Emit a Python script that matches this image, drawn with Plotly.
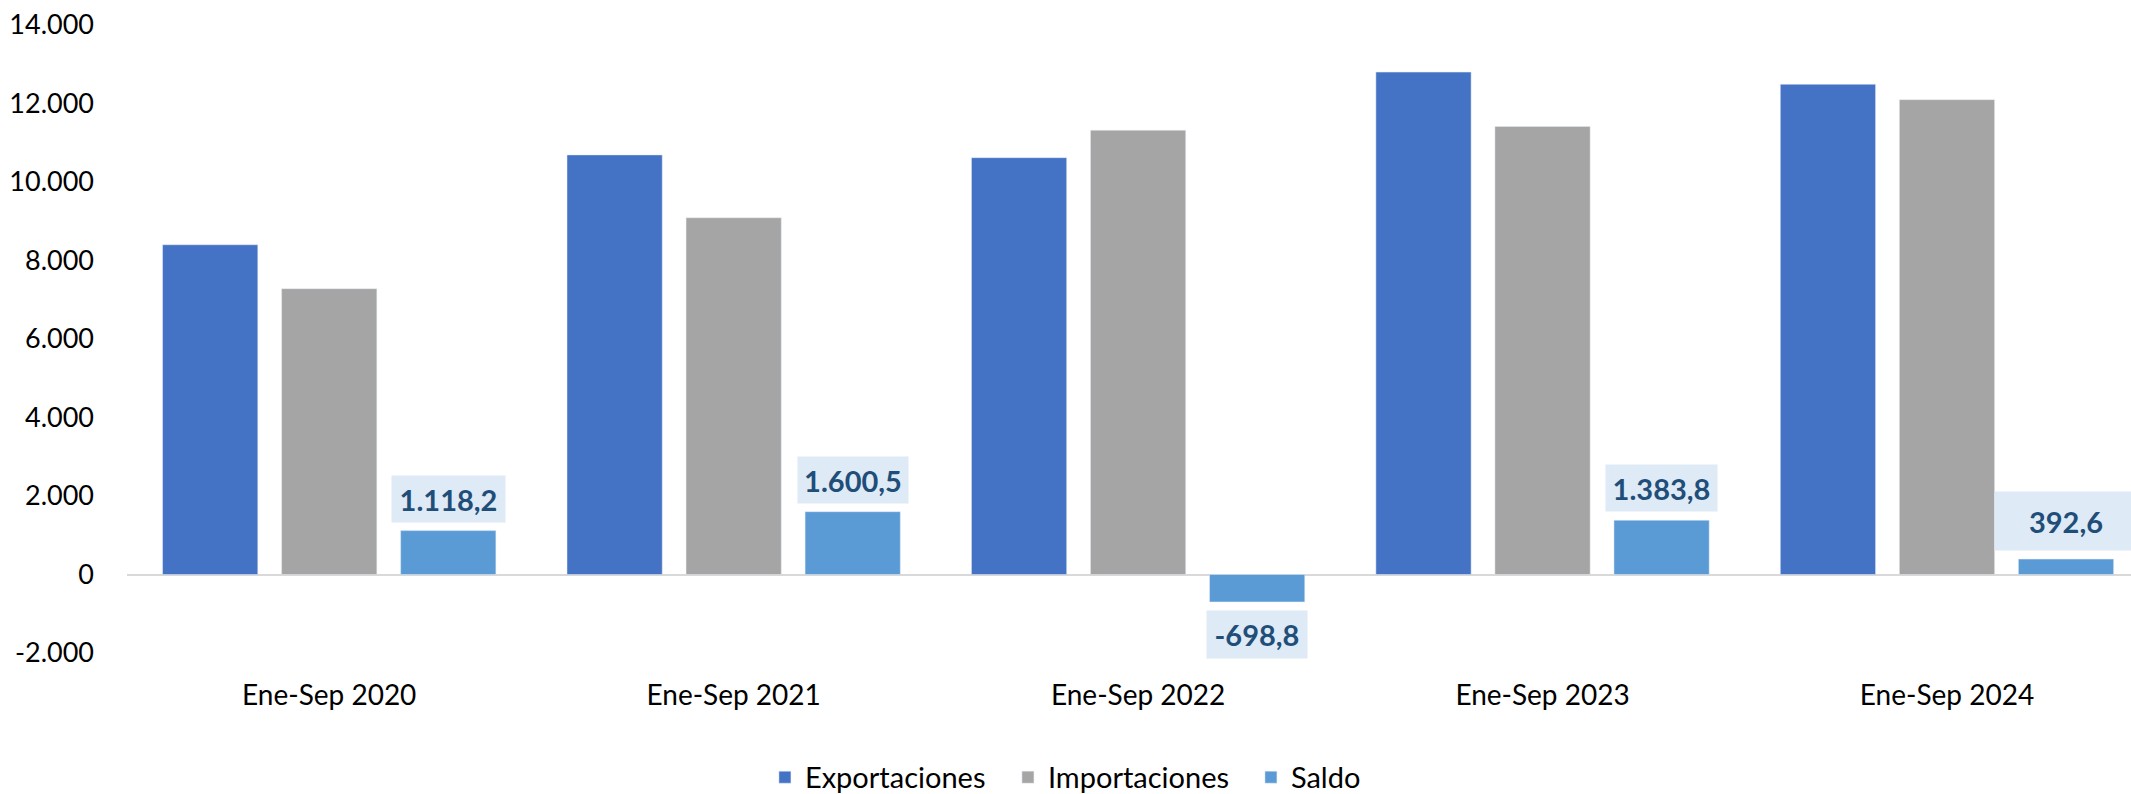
import plotly.graph_objects as go

categories = ["Ene-Sep 2020", "Ene-Sep 2021", "Ene-Sep 2022", "Ene-Sep 2023", "Ene-Sep 2024"]
exportaciones = [8400.5, 10690.0, 10620.0, 12800.0, 12490.0]
importaciones = [7282.3, 9089.5, 11318.8, 11416.2, 12097.4]
saldo = [1118.2, 1600.5, -698.8, 1383.8, 392.6]
y_tickvals = [-2000, 0, 2000, 4000, 6000, 8000, 10000, 12000, 14000]
y_ticktext = ["-2.000", "0", "2.000", "4.000", "6.000", "8.000", "10.000", "12.000", "14.000"]

FONT = "Lato"
W, H = 2131, 794
ML, MR, MT, MB = 127, 0, 25, 141
BARGAP = 0.117
BARGROUPGAP = 0.2
X_RANGE = [-0.5, 4.455]

# label box sizes (style)
box_w = [113, 110, 100, 111, 142]
box_h = [46, 46, 47, 46, 58]

def fmt(v):
    s = f"{abs(v):,.1f}".replace(",", "X").replace(".", ",").replace("X", ".")
    return ("-" if v < 0 else "") + s

fig = go.Figure()
fig.add_trace(go.Bar(name="Exportaciones", x=categories, y=exportaciones, marker_color="#4472C4"))
fig.add_trace(go.Bar(name="Importaciones", x=categories, y=importaciones, marker_color="#A5A5A5"))
fig.add_trace(go.Bar(name="Saldo", x=categories, y=saldo, marker_color="#5B9BD5"))

plot_w = W - ML - MR
px_per_cat = plot_w / (X_RANGE[1] - X_RANGE[0])
slot = (1 - BARGAP) * px_per_cat / 3
for i, (c, v) in enumerate(zip(categories, saldo)):
    fig.add_annotation(
        x=c, y=v, xref="x", yref="y", xshift=slot,
        yshift=8 if v >= 0 else -8,
        yanchor="bottom" if v >= 0 else "top",
        text=fmt(v), showarrow=False,
        font=dict(family=FONT, size=29, color="#1F4E79", weight="bold"),
        bgcolor="#DEEAF6", borderpad=0, width=box_w[i], height=box_h[i],
        align="center", valign="middle",
    )

fig.update_layout(
    width=W, height=H,
    margin=dict(l=ML, r=MR, t=MT, b=MB),
    paper_bgcolor="white", plot_bgcolor="white",
    barmode="group", bargap=BARGAP, bargroupgap=BARGROUPGAP,
    font=dict(family=FONT, size=27, color="black"),
    showlegend=True,
    legend=dict(orientation="h", xref="container", x=0.53, xanchor="center",
                yref="container", y=0.021, yanchor="middle",
                font=dict(family=FONT, size=29, color="black"),
                traceorder="normal", itemwidth=30,
                entrywidth=198, entrywidthmode="pixels"),
)
fig.update_xaxes(range=X_RANGE, showline=False, showgrid=False, zeroline=False, ticks="",
                 ticklabelstandoff=23, tickfont=dict(size=28))
fig.update_yaxes(range=[-2000, 14000], tickvals=y_tickvals, ticktext=y_ticktext,
                 showgrid=False, showline=False, zeroline=True, zerolinecolor="#D9D9D9",
                 zerolinewidth=2, ticks="", ticklabelstandoff=32, tickfont=dict(size=27))

fig.write_html("out.html", config={"displayModeBar": False},
               post_script="document.body.style.margin='0';document.body.style.overflow='hidden';")
